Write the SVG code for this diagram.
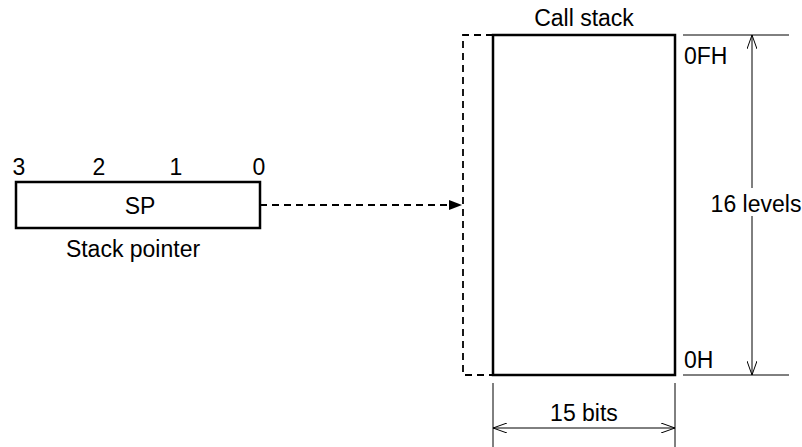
<svg xmlns="http://www.w3.org/2000/svg" width="802" height="447" viewBox="0 0 802 447">
  <style>
    text { font-family: "Liberation Sans", Arial, sans-serif; font-size: 23px; fill: #000; }
    .box { fill: #fff; stroke: #000; stroke-width: 2.5; }
    .thin { fill: none; stroke: #000; stroke-width: 1; }
    .dash { fill: none; stroke: #000; stroke-width: 1.8; stroke-dasharray: 7 5; }
  </style>
  <defs>
    <marker id="open" viewBox="0 0 14 10" refX="14" refY="5" markerWidth="14" markerHeight="10" markerUnits="userSpaceOnUse" orient="auto-start-reverse">
      <path d="M0,0 L14,5 L0,10" fill="none" stroke="#000" stroke-width="1"/>
    </marker>
    <marker id="solid" viewBox="0 0 13 10" refX="13" refY="5" markerWidth="13" markerHeight="10" markerUnits="userSpaceOnUse" orient="auto">
      <path d="M0,0 L13,5 L0,10 Z" fill="#000"/>
    </marker>
  </defs>

  <!-- stack pointer register -->
  <g id="stack-pointer">
    <rect class="box" x="16" y="182" width="244" height="46"/>
    <text x="19" y="175" text-anchor="middle">3</text>
    <text x="99" y="175" text-anchor="middle">2</text>
    <text x="176" y="175" text-anchor="middle">1</text>
    <text x="259" y="175" text-anchor="middle">0</text>
    <text x="140" y="214" text-anchor="middle">SP</text>
    <text x="133" y="257" text-anchor="middle">Stack pointer</text>
  </g>

  <!-- call stack memory -->
  <g id="call-stack">
    <rect class="box" x="493" y="35" width="182" height="340"/>
    <text x="584" y="26" text-anchor="middle">Call stack</text>
    <text x="684" y="64">0FH</text>
    <text x="684" y="368">0H</text>
  </g>

  <g id="connectors">
    <!-- bracket marking the addressed entry -->
    <path class="dash" d="M493,35 H463 V375 H493"/>
    <!-- pointer arrow -->
    <line class="dash" x1="260" y1="205" x2="462" y2="205" marker-end="url(#solid)"/>

    <!-- depth dimension -->
    <line class="thin" x1="683" y1="35" x2="789" y2="35"/>
    <line class="thin" x1="683" y1="375" x2="789" y2="375"/>
    <line class="thin" x1="752" y1="35" x2="752" y2="375" marker-start="url(#open)" marker-end="url(#open)"/>
    <rect x="708" y="188" width="94" height="28" fill="#fff"/>
    <text x="756" y="212" text-anchor="middle">16 levels</text>

    <!-- width dimension -->
    <line class="thin" x1="493" y1="383" x2="493" y2="447"/>
    <line class="thin" x1="675" y1="383" x2="675" y2="447"/>
    <line class="thin" x1="493" y1="428" x2="675" y2="428" marker-start="url(#open)" marker-end="url(#open)"/>
    <text x="584" y="421" text-anchor="middle">15 bits</text>
  </g>
</svg>
